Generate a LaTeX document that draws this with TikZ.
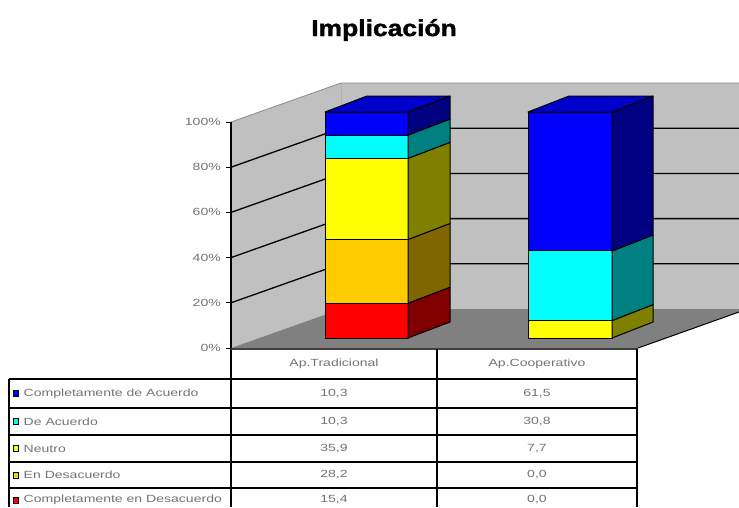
\documentclass[tikz,border=0pt]{standalone}
\usepackage{fontspec}
\setmainfont{Liberation Sans}
\newfontfamily\chartfont[FakeStretch=1.35]{Liberation Sans}
\newfontfamily\titlefont[FakeStretch=1.15, BoldFeatures={FakeBold=1.6}]{Liberation Sans}
\usetikzlibrary{calc, positioning}
\definecolor{wallcolor}{RGB}{192,192,192}
\definecolor{floorcolor}{RGB}{128,128,128}
\definecolor{acuerdototalcolor}{RGB}{0,0,255}
\definecolor{acuerdototalsidecolor}{RGB}{0,0,128}
\definecolor{acuerdototaltopcolor}{RGB}{0,0,204}
\definecolor{acuerdocolor}{RGB}{0,255,255}
\definecolor{acuerdosidecolor}{RGB}{0,128,128}
\definecolor{neutrocolor}{RGB}{255,255,0}
\definecolor{neutrosidecolor}{RGB}{128,128,0}
\definecolor{desacuerdocolor}{RGB}{255,204,0}
\definecolor{desacuerdosidecolor}{RGB}{128,102,0}
\definecolor{desacuerdototalcolor}{RGB}{255,0,0}
\definecolor{desacuerdototalsidecolor}{RGB}{128,0,0}

\begin{document}
\begin{tikzpicture}[x=1pt, y=-1pt,
	face/.style={draw=black, line width=1pt, line join=round},
	grid line/.style={black, line width=1.3pt},
	table line/.style={black, line width=1.4pt},
	lbl/.style={font=\chartfont\fontsize{10.4}{12}\selectfont, text=black!55, inner sep=0pt},
	swatch/.style={draw=black, line width=1pt, minimum width=5pt, minimum height=6pt, inner sep=0pt}
	]
\useasboundingbox (0,0) rectangle (739,507);

\node[font=\titlefont\bfseries\fontsize{23}{26}\selectfont] (title) at (384,30) {Implicación};

% Walls and floor
\fill[wallcolor] (231,122) -- (341,83) -- (341,309) -- (231,348) -- cycle;
\fill[wallcolor] (341,83) rectangle (739,309);
\fill[floorcolor] (231,348) -- (341,309) -- (739,309) -- (739,312) -- (638,348) -- cycle;
\draw[black!45, line width=0.8pt] (231,122) -- (341,83) -- (739,83);
\draw[black!30, line width=0.6pt] (341,83) -- (341,309);
\draw[black, line width=1pt] (638,348) -- (739,312);

% Gridlines
\foreach \p in {20,40,60,80}
	\draw[grid line] (231,{348-2.26*\p}) -- (341,{309-2.26*\p}) -- (739,{309-2.26*\p});

% Ap.Tradicional
\foreach \lo/\hi/\fc/\sc in {0/15.4/desacuerdototalcolor/desacuerdototalsidecolor,
		15.4/43.6/desacuerdocolor/desacuerdosidecolor,
		43.6/79.5/neutrocolor/neutrosidecolor,
		79.5/89.8/acuerdocolor/acuerdosidecolor,
		89.8/100/acuerdototalcolor/acuerdototalsidecolor}{
	\filldraw[face, fill=\fc] (325,{338-2.26*\lo}) rectangle (408,{338-2.26*\hi});
	\filldraw[face, fill=\sc] (408,{338-2.26*\lo}) -- (450,{322-2.26*\lo}) -- (450,{322-2.26*\hi}) -- (408,{338-2.26*\hi}) -- cycle;
}
\filldraw[face, fill=acuerdototaltopcolor] (325,112) -- (367,96) -- (450,96) -- (408,112) -- cycle;

% Ap.Cooperativo
\foreach \lo/\hi/\fc/\sc in {0/7.7/neutrocolor/neutrosidecolor,
		7.7/38.5/acuerdocolor/acuerdosidecolor,
		38.5/100/acuerdototalcolor/acuerdototalsidecolor}{
	\filldraw[face, fill=\fc] (528,{338-2.26*\lo}) rectangle (612,{338-2.26*\hi});
	\filldraw[face, fill=\sc] (612,{338-2.26*\lo}) -- (653,{322-2.26*\lo}) -- (653,{322-2.26*\hi}) -- (612,{338-2.26*\hi}) -- cycle;
}
\filldraw[face, fill=acuerdototaltopcolor] (528,112) -- (569,96) -- (653,96) -- (612,112) -- cycle;

% Axis
\draw[line width=1.6pt] (231,122) -- (231,507);
\foreach \p in {0,20,...,100}{
	\draw[line width=1pt] (226,{348-2.26*\p}) -- (231,{348-2.26*\p});
	\node[lbl, anchor=east] (tick-\p) at (221,{348-2.26*\p}) {\p\%};
}

% Data table
\draw[black!75, line width=1.4pt] (231,349) -- (638,349);
\draw[table line] (437,349) -- (437,507);
\draw[table line] (637,349) -- (637,507);
\draw[table line] (9,379) -- (9,507);
\foreach \y in {379,408,435,462,488}
	\draw[table line] (9,\y) -- (637,\y);

\node[lbl] (hdr-trad) at (334,364) {Ap.Tradicional};
\node[lbl] (hdr-coop) at (537,364) {Ap.Cooperativo};

\node[swatch, fill=acuerdototalcolor] (sw-1) at (15.5,393.5) {};
\node[swatch, fill=acuerdocolor] (sw-2) at (15.5,421.5) {};
\node[swatch, fill=neutrocolor] (sw-3) at (15.5,448.5) {};
\node[swatch, fill=desacuerdocolor] (sw-4) at (15.5,475) {};
\node[swatch, fill=desacuerdototalcolor] (sw-5) at (15.5,500) {};

\node[lbl, right=5pt of sw-1] (leg-1) {Completamente de Acuerdo};
\node[lbl, right=5pt of sw-2] (leg-2) {De Acuerdo};
\node[lbl, right=5pt of sw-3] (leg-3) {Neutro};
\node[lbl, right=5pt of sw-4] (leg-4) {En Desacuerdo};
\node[lbl, right=5pt of sw-5] (leg-5) {Completamente en Desacuerdo};

\node[lbl] (trad-1) at (334,393.5) {10,3};
\node[lbl] (trad-2) at (334,421.5) {10,3};
\node[lbl] (trad-3) at (334,448.5) {35,9};
\node[lbl] (trad-4) at (334,475) {28,2};
\node[lbl] (trad-5) at (334,500) {15,4};

\node[lbl] (coop-1) at (537,393.5) {61,5};
\node[lbl] (coop-2) at (537,421.5) {30,8};
\node[lbl] (coop-3) at (537,448.5) {7,7};
\node[lbl] (coop-4) at (537,475) {0,0};
\node[lbl] (coop-5) at (537,500) {0,0};

\end{tikzpicture}
\end{document}
